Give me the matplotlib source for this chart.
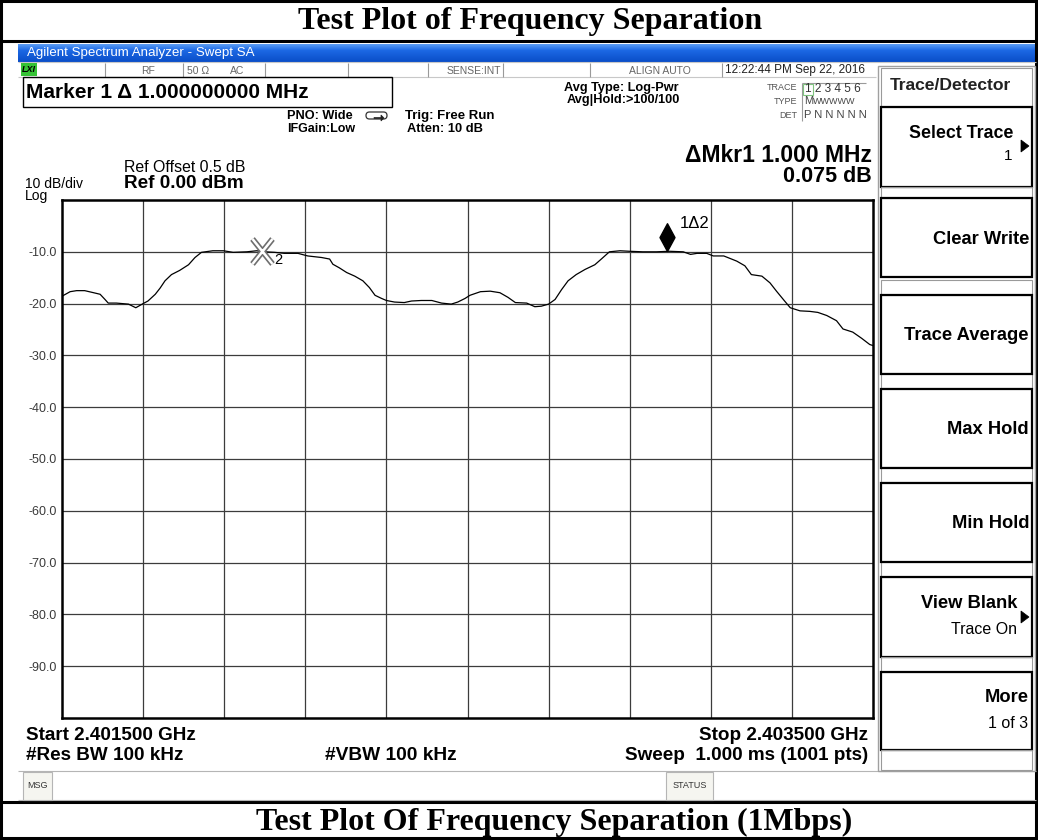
import matplotlib
matplotlib.use("Agg")
import matplotlib.pyplot as plt
from matplotlib.patches import Rectangle, FancyBboxPatch, Polygon
from matplotlib.path import Path
import numpy as np

# ---------------- data ----------------
start_mhz = 2401.5
stop_mhz = 2403.5
ref_level_dbm = 0.0
db_per_div = 10

freq_mhz = [2401.500, 2401.504, 2401.520, 2401.536, 2401.556, 2401.578, 2401.594, 2401.606,
            2401.614, 2401.634, 2401.664, 2401.682, 2401.700, 2401.712, 2401.730, 2401.742,
            2401.754, 2401.770, 2401.790, 2401.812, 2401.828, 2401.844, 2401.872, 2401.898,
            2401.922, 2401.956, 2401.980, 2402.000, 2402.024, 2402.048, 2402.082, 2402.106,
            2402.140, 2402.160, 2402.168, 2402.184, 2402.202, 2402.222, 2402.242, 2402.258,
            2402.272, 2402.288, 2402.300, 2402.320, 2402.344, 2402.362, 2402.386, 2402.412,
            2402.436, 2402.460, 2402.476, 2402.494, 2402.506, 2402.532, 2402.556, 2402.580,
            2402.600, 2402.618, 2402.646, 2402.666, 2402.682, 2402.700, 2402.716, 2402.732,
            2402.748, 2402.768, 2402.790, 2402.814, 2402.830, 2402.850, 2402.876, 2402.900,
            2402.932, 2402.966, 2402.998, 2403.032, 2403.050, 2403.066, 2403.090, 2403.106,
            2403.132, 2403.164, 2403.184, 2403.200, 2403.226, 2403.246, 2403.262, 2403.282,
            2403.296, 2403.320, 2403.344, 2403.364, 2403.386, 2403.410, 2403.426, 2403.450,
            2403.472, 2403.492, 2403.500]
level_dbm = [-18.6, -18.4, -17.7, -17.5, -17.5, -17.9, -18.2, -19.2,
             -19.9, -19.9, -20.1, -20.8, -20.0, -19.5, -18.2, -17.0,
             -15.6, -14.4, -13.6, -12.5, -11.1, -10.1, -9.8, -9.8,
             -10.1, -10.0, -9.8, -10.0, -10.1, -10.3, -10.3, -10.8,
             -11.1, -11.4, -12.4, -13.1, -14.0, -14.7, -15.6, -16.9,
             -18.4, -19.0, -19.4, -19.7, -19.8, -19.5, -19.4, -19.4,
             -19.9, -20.1, -19.7, -19.0, -18.4, -17.7, -17.6, -17.9,
             -18.8, -19.8, -19.9, -20.6, -20.5, -20.1, -19.2, -17.3,
             -15.6, -14.4, -13.4, -12.5, -11.4, -10.0, -9.8, -9.9,
             -10.0, -10.0, -9.9, -10.0, -10.5, -10.3, -10.3, -10.8,
             -10.8, -11.8, -12.7, -14.4, -14.7, -16.0, -17.6, -19.5,
             -20.8, -21.4, -21.5, -21.7, -22.3, -23.3, -24.9, -25.5,
             -26.7, -27.9, -28.1]

y_ticks = [-10, -20, -30, -40, -50, -60, -70, -80, -90]
y_tick_labels = ["-10.0", "-20.0", "-30.0", "-40.0", "-50.0", "-60.0", "-70.0", "-80.0", "-90.0"]

marker2_freq, marker2_level = 2401.992, -9.8
marker1_freq, marker1_level = 2402.992, -9.9

softkeys = ["Clear Write", "Trace Average", "Max Hold", "Min Hold"]

# ---------------- figure ----------------
W, H, DPI = 1038, 840, 100
fig = plt.figure(figsize=(W / DPI, H / DPI), dpi=DPI)
fig.patch.set_facecolor("white")

ov = fig.add_axes([0, 0, 1, 1])
ov.axis("off")

SANS = ["Liberation Sans", "DejaVu Sans"]
SERIF = ["Liberation Serif", "DejaVu Serif"]


def t(x, y, s, size, weight="normal", ha="left", color="black", family=SANS, va="center", style="normal"):
    ov.text(x, y, s, fontsize=size, fontweight=weight, ha=ha, va=va, color=color,
            family=family, style=style)


def rect(x0, y0, x1, y1, ec="black", lw=1.0, fc="none", z=2):
    ov.add_patch(Rectangle((x0, y0), x1 - x0, y1 - y0, ec=ec, fc=fc, lw=lw, zorder=z))


def hline(y, x0, x1, color="black", lw=1.0):
    ov.plot([x0, x1], [y, y], color=color, lw=lw, solid_capstyle="butt")


def vline(x, y0, y1, color="black", lw=1.0):
    ov.plot([x, x], [y0, y1], color=color, lw=lw, solid_capstyle="butt")


# blue title bar gradient
grad = np.linspace(0, 1, 32)
c_top = np.array([0x5a, 0x9c, 0xf4]) / 255
c_mid = np.array([0x1c, 0x68, 0xe4]) / 255
c_bot = np.array([0x0a, 0x4e, 0xc8]) / 255
rows = []
for g in grad:
    if g < 0.35:
        c = c_top + (c_mid - c_top) * (g / 0.35)
    else:
        c = c_mid + (c_bot - c_mid) * ((g - 0.35) / 0.65)
    rows.append([c])
ov.imshow(np.array(rows), extent=[18, 1036, 62, 44], aspect="auto", zorder=1)
t(27, 53, "Agilent Spectrum Analyzer - Swept SA", 9.6, color="white")

ov.set_xlim(0, W)
ov.set_ylim(H, 0)

# page frame and title rows
rect(1, 1, 1036, 838, lw=2.2)
hline(41, 0, 1037, lw=2.2)
hline(802, 0, 1037, lw=2.2)
t(530, 21, "Test Plot of Frequency Separation", 23, weight="bold", ha="center", family=SERIF)
t(554, 822, "Test Plot Of Frequency Separation (1Mbps)", 23, weight="bold", ha="center", family=SERIF)

# status row
hline(62, 18, 1036, color="#c8c8c8", lw=0.8)
hline(77, 18, 876, color="#c8c8c8", lw=0.8)
for xd in [105, 183, 265, 348, 428, 503, 590, 722]:
    vline(xd, 63, 77, color="#9a9a9a", lw=0.8)
rect(21, 63, 37, 76, ec="none", fc="#35c335", lw=0)
t(29, 70, "LXI", 6.5, weight="bold", ha="center", style="italic")
t(148, 70.5, "RF", 7.5, ha="center", color="#666666")
t(187, 70.5, "50 Ω", 7.5, color="#666666")
t(230, 70.5, "AC", 7.5, color="#666666")
t(501, 70.5, "SENSE:INT", 7.5, ha="right", color="#666666")
t(660, 70.5, "ALIGN AUTO", 7.5, ha="center", color="#666666")
t(725, 70.5, "12:22:44 PM Sep 22, 2016", 8.5, color="#222222")

# marker box
rect(23, 77, 392, 107, lw=1.0)
t(26, 92, "Marker 1 Δ 1.000000000 MHz", 15, weight="bold")

t(287, 116, "PNO: Wide", 9.2, weight="bold")
t(287, 129, "IFGain:Low", 9.0, weight="bold")
ov.add_patch(FancyBboxPatch((366, 112), 21, 7, boxstyle="round,pad=0,rounding_size=3.5",
                            ec="#333333", fc="white", lw=0.9))
ov.add_patch(Polygon([[374, 117.5], [381, 117.5], [381, 115], [384, 118], [381, 121], [381, 118.5], [374, 118.5]],
                     closed=True, fc="#222222", ec="#222222", lw=0.5))
t(405, 116, "Trig: Free Run", 9.5, weight="bold")
t(407, 129.5, "Atten: 10 dB", 9.3, weight="bold")

t(621, 88, "Avg Type: Log-Pwr", 9.2, weight="bold", ha="center")
t(623, 100.5, "Avg|Hold:>100/100", 9.2, weight="bold", ha="center")

# trace table
hline(83, 802, 866, color="#9a9a9a", lw=0.8)
vline(802, 83, 121, color="#9a9a9a", lw=0.8)
rect(803, 83.5, 813, 94.5, ec="#7fc47f", lw=0.8)
t(797, 88, "TRACE", 6.5, ha="right", color="#555555")
t(805, 89, "1 2 3 4 5 6", 8.5, color="#333333")
t(797, 101, "TYPE", 6.5, ha="right", color="#555555")
t(804, 101, "M", 8, color="#444444")
t(813, 101, "WWWWW", 6.5, color="#444444")
t(797, 115, "DET", 6.5, ha="right", color="#555555")
t(804, 115, "P N N N N N", 8, color="#444444")

# delta marker readout
t(872, 155, "ΔMkr1 1.000 MHz", 16.5, weight="bold", ha="right")
t(872, 177, "0.075 dB", 15.5, weight="bold", ha="right")

# reference labels
t(124, 167, "Ref Offset 0.5 dB", 11.4)
t(124, 184, "Ref 0.00 dBm", 13.6, weight="bold")
t(25, 184, "10 dB/div", 10)
t(25, 196, "Log", 10)

# bottom annotations
t(26, 735, "Start 2.401500 GHz", 13.6, weight="bold")
t(26, 755, "#Res BW 100 kHz", 13.6, weight="bold")
t(325, 755, "#VBW 100 kHz", 13.8, weight="bold")
t(868, 735, "Stop 2.403500 GHz", 13.6, weight="bold", ha="right")
t(868, 755, "Sweep  1.000 ms (1001 pts)", 13.6, weight="bold", ha="right")

# message bar
hline(771, 18, 1036, color="#b5b5b5", lw=0.8)
hline(800, 18, 1036, color="#b5b5b5", lw=0.8)
rect(23, 772, 52, 800, ec="#b5b5b5", fc="#f5f5f0", lw=0.8)
t(37.5, 786, "MSG", 6.5, ha="center", color="#333333")
rect(666, 772, 713, 800, ec="#b5b5b5", fc="#f5f5f0", lw=0.8)
t(689.5, 786, "STATUS", 6.5, ha="center", color="#333333")

# softkey panel
rect(878, 66, 1035, 771, ec="#a0a0a0", lw=1.0)
rect(881, 68, 1032, 107, ec="#9a9a9a", lw=0.8)
t(950, 86, "Trace/Detector", 12.6, weight="bold", ha="center", color="#222222")
rect(881, 107, 1032, 187, ec="black", lw=1.6)
t(1013, 134, "Select Trace", 12.8, weight="bold", ha="right")
t(1012, 156, "1", 11, ha="right")
ov.add_patch(Polygon([[1021, 140], [1029, 146], [1021, 152]], closed=True, fc="black", ec="black", lw=0.5))

box_tops = [198, 295, 389, 483]
sep_tops = [187, 280, 373, 467, 562]
for yt in sep_tops:
    rect(881, yt, 1032, yt + 11 if yt == 187 else yt + 15, ec="#9a9a9a", lw=0.8)
for yt, label in zip(box_tops, softkeys):
    rect(881, yt, 1032, yt + 79, ec="black", lw=1.6)
    t(1029, yt + 41, label, 13.2, weight="bold", ha="right")

rect(881, 577, 1032, 657, ec="black", lw=1.6)
t(1017, 604, "View Blank", 13.2, weight="bold", ha="right")
t(1017, 630, "Trace On", 11.5, ha="right")
ov.add_patch(Polygon([[1021, 611], [1029, 617], [1021, 623]], closed=True, fc="black", ec="black", lw=0.5))
rect(881, 657, 1032, 672, ec="#9a9a9a", lw=0.8)
rect(881, 672, 1032, 750, ec="black", lw=1.6)
t(1029, 698, "More", 13.2, weight="bold", ha="right")
t(1028, 723, "1 of 3", 11.5, ha="right")
rect(881, 750, 1032, 770, ec="#9a9a9a", lw=0.8)

# ---------------- trace axes ----------------
x0, y0, x1, y1 = 62, 200, 873, 718
ax = fig.add_axes([x0 / W, 1 - y1 / H, (x1 - x0) / W, (y1 - y0) / H])
ax.set_xlim(start_mhz, stop_mhz)
ax.set_ylim(ref_level_dbm - 10 * db_per_div, ref_level_dbm)
ax.set_xticks(np.linspace(start_mhz, stop_mhz, 11)[1:-1])
ax.set_xticklabels([])
ax.set_yticks(y_ticks)
ax.set_yticklabels(y_tick_labels, family=SANS)
ax.tick_params(axis="both", length=0)
ax.tick_params(axis="y", pad=3.5, labelsize=9, labelcolor="#3a3a3a")
ax.grid(True, color="#3c3c3c", lw=0.9)
ax.set_axisbelow(True)
for sp in ax.spines.values():
    sp.set_linewidth(1.8)
    sp.set_color("black")

ax.plot(freq_mhz, level_dbm, color="black", lw=0.9, zorder=3)

# marker 2 (reference, double-line X)
xpath = Path([(-0.8, -1), (0.8, 1), (-0.8, 1), (0.8, -1)],
             [Path.MOVETO, Path.LINETO, Path.MOVETO, Path.LINETO])
ax.plot([marker2_freq], [marker2_level], marker=xpath, ms=18, mew=4.2, color="#6e6e6e", ls="none", zorder=4)
ax.plot([marker2_freq], [marker2_level], marker=xpath, ms=18, mew=1.8, color="white", ls="none", zorder=5)
ax.annotate("2", (marker2_freq, marker2_level), xytext=(9, -7), textcoords="offset points",
            fontsize=10.5, family=SANS, ha="left", va="center", zorder=6)

# marker 1 (delta, filled diamond above trace)
dpath = Path([(0, 0), (0.27, 0.5), (0, 1), (-0.27, 0.5), (0, 0)],
             [Path.MOVETO, Path.LINETO, Path.LINETO, Path.LINETO, Path.CLOSEPOLY])
ax.plot([marker1_freq], [marker1_level], marker=dpath, ms=40, color="black", ls="none", zorder=6)
ax.annotate("1Δ2", (marker1_freq, marker1_level), xytext=(9.5, 20), textcoords="offset points",
            fontsize=12, family=SANS, ha="left", va="center", zorder=6)

fig.savefig("out.png", dpi=DPI)
